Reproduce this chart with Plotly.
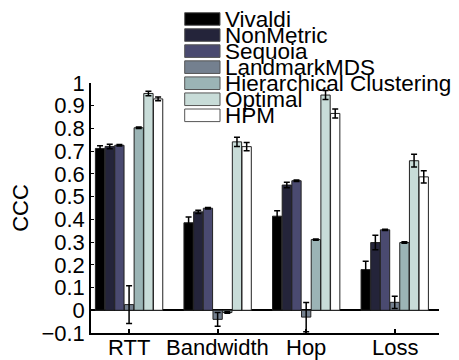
import plotly.graph_objects as go

# Metrics on the x axis
categories = ["RTT", "Bandwidth", "Hop", "Loss"]

# Methods (one bar per metric)
methods = ["Vivaldi", "NonMetric", "Sequoia", "LandmarkMDS",
           "Hierarchical Clustering", "Optimal", "HPM"]

# CCC values per method, ordered as categories
vivaldi = [0.712, 0.385, 0.414, 0.179]
nonmetric = [0.721, 0.433, 0.551, 0.298]
sequoia = [0.726, 0.449, 0.570, 0.354]
landmarkmds = [0.025, -0.040, -0.030, 0.035]
hierarchical = [0.803, -0.010, 0.311, 0.298]
optimal = [0.954, 0.741, 0.947, 0.658]
hpm = [0.930, 0.720, 0.866, 0.587]

# Error bar half-lengths
vivaldi_err = [0.012, 0.025, 0.024, 0.037]
nonmetric_err = [0.010, 0.007, 0.012, 0.032]
sequoia_err = [0.003, 0.003, 0.003, 0.003]
landmarkmds_err = [0.083, 0.030, 0.064, 0.027]
hierarchical_err = [0.003, 0.003, 0.003, 0.003]
optimal_err = [0.010, 0.020, 0.020, 0.028]
hpm_err = [0.008, 0.018, 0.020, 0.027]

# Y tick labels
y_tickvals = [-0.1, 0, 0.1, 0.2, 0.3, 0.4, 0.5, 0.6, 0.7, 0.8, 0.9, 1]
y_ticktext = ["\u22120.1", "0", "0.1", "0.2", "0.3", "0.4", "0.5",
              "0.6", "0.7", "0.8", "0.9", "1"]

values = [vivaldi, nonmetric, sequoia, landmarkmds, hierarchical, optimal, hpm]
errors = [vivaldi_err, nonmetric_err, sequoia_err, landmarkmds_err,
          hierarchical_err, optimal_err, hpm_err]
colors = ["#000000", "#24243a", "#4a4a70", "#74808f", "#9bb4b5", "#c8dcd8", "#ffffff"]

FONT = "Liberation Sans, Arial, Helvetica, sans-serif"
W, H = 459, 360
ML, MR, MT, MB = 91, 20, 83, 27

fig = go.Figure()
for name, vals, errs, col in zip(methods, values, errors, colors):
    fig.add_trace(go.Bar(
        x=categories, y=vals, name=name,
        marker=dict(color=col, line=dict(color="#222222", width=1)),
        error_y=dict(type="data", array=errs, visible=True,
                     color="black", thickness=1.5, width=3),
        showlegend=False,
    ))

pw = W - ML - MR
ph = H - MT - MB


def px_x(x):
    return (x - ML) / pw


def px_y(y):
    return (H - MB - y) / ph


shapes = []
annotations = []

# Hand-built legend: stacked swatches with tightly spaced labels
for i, (name, col) in enumerate(zip(methods, colors)):
    cy = 19 + 16.05 * i
    shapes.append(dict(type="rect", xref="paper", yref="paper",
                       x0=px_x(184.7), x1=px_x(220),
                       y0=px_y(cy + 6.3), y1=px_y(cy - 6.3),
                       fillcolor=col, line=dict(color="#555555", width=1)))
    annotations.append(dict(xref="paper", yref="paper", x=px_x(222.5), y=px_y(cy),
                            text=name, showarrow=False, xanchor="left",
                            yanchor="middle",
                            font=dict(family=FONT, size=22.5, color="black")))

# Category labels set just under the bottom axis line
for cat in categories:
    annotations.append(dict(xref="x", yref="paper", x=cat, y=px_y(347.5),
                            text=cat, showarrow=False, xanchor="center",
                            yanchor="middle",
                            font=dict(family=FONT, size=22, color="black")))

fig.update_layout(
    width=W, height=H,
    margin=dict(l=ML, r=MR, t=MT, b=MB, pad=0, autoexpand=False),
    paper_bgcolor="white", plot_bgcolor="white",
    barmode="group", bargap=0.235, bargroupgap=0.04,
    font=dict(family=FONT, size=22, color="black"),
    shapes=shapes, annotations=annotations,
    xaxis=dict(range=[-0.43, 3.5], showline=True, linecolor="black", linewidth=1.5,
               ticks="inside", ticklen=4, tickwidth=1.5, tickcolor="black",
               showgrid=False, zeroline=False, automargin=False,
               showticklabels=False),
    yaxis=dict(range=[-0.1, 1], tickvals=y_tickvals, ticktext=y_ticktext,
               showline=True, linecolor="black", linewidth=1.5, automargin=False,
               ticks="inside", ticklen=3, tickwidth=1, tickcolor="black",
               showgrid=False, zeroline=True, zerolinecolor="black", zerolinewidth=1.5,
               tickfont=dict(family=FONT, size=22),
               title=dict(text="CCC", font=dict(family=FONT, size=22), standoff=7)),
)

fig.write_html("out.html")
